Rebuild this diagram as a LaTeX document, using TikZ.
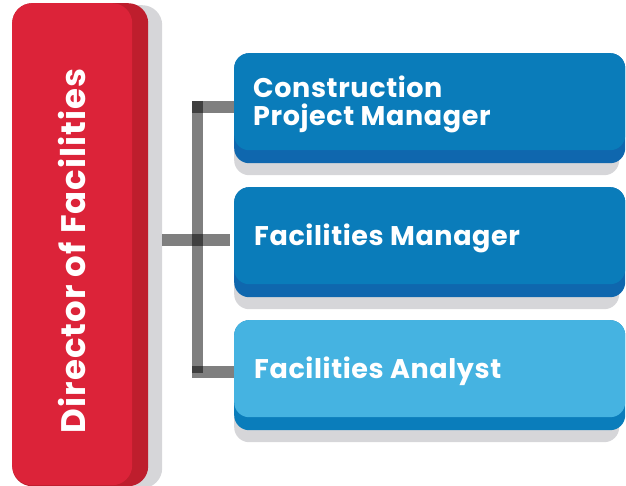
\documentclass[tikz,border=0pt]{standalone}
\usepackage{fontspec}
\setmainfont{Poppins}
\definecolor{shadegray}{HTML}{D6D6D9}
\definecolor{redfront}{HTML}{DC2339}
\definecolor{redback}{HTML}{BE1E2D}
\definecolor{bluefront}{HTML}{0A7CBA}
\definecolor{blueback}{HTML}{0F67AE}
\definecolor{lightfront}{HTML}{45B3E1}
\definecolor{lightback}{HTML}{0A7DBB}
\begin{document}
\begin{tikzpicture}[x=1pt,y=-1pt,
  panel/.style={rectangle, rounded corners=15pt, draw=none, inner sep=0pt, anchor=north west},
  bluetext/.style={anchor=base west, inner sep=0pt, text=white, font=\bfseries\fontsize{27}{27}\selectfont\addfontfeature{LetterSpace=2.3}},
  redtext/.style={anchor=base, inner sep=0pt, rotate=90, text=white, font=\bfseries\fontsize{34}{34}\selectfont\addfontfeature{LetterSpace=3}},
  link/.style={line width=11.5pt, black, opacity=0.5, line cap=butt}]
\useasboundingbox (0,0) rectangle (626,486);
\clip (0,0) rectangle (626,486);
% director
\node[panel, fill=shadegray, rounded corners=20pt, minimum width=142pt, minimum height=483pt] (dshadow) at (20,5) {};
\node[panel, fill=redback, rounded corners=20pt, minimum width=136pt, minimum height=483pt] (dback) at (12,3) {};
\node[panel, fill=redfront, rounded corners=20pt, minimum width=120pt, minimum height=482pt] (dfront) at (12,3) {};
\node[redtext] (dtext) at (85,251) {Director of Facilities};
% box 1
\node[panel, fill=shadegray, minimum width=385pt, minimum height=110pt] (b1shadow) at (234,65) {};
\node[panel, fill=blueback, minimum width=391pt, minimum height=110pt] (b1back) at (234,53) {};
\node[panel, fill=bluefront, minimum width=391pt, minimum height=97pt] (b1) at (234,53) {};
\node[bluetext] (t1a) at (253,98) {Construction};
\node[bluetext] (t1b) at (253,125.5) {Project Manager};
% box 2
\node[panel, fill=shadegray, minimum width=385pt, minimum height=110pt] (b2shadow) at (234,199) {};
\node[panel, fill=blueback, minimum width=391pt, minimum height=110pt] (b2back) at (234,187) {};
\node[panel, fill=bluefront, minimum width=391pt, minimum height=97pt] (b2) at (234,187) {};
\node[bluetext] (t2) at (254,246) {Facilities Manager};
% box 3
\node[panel, fill=shadegray, minimum width=385pt, minimum height=110pt] (b3shadow) at (234,332) {};
\node[panel, fill=lightback, minimum width=391pt, minimum height=110pt] (b3back) at (234,320) {};
\node[panel, fill=lightfront, minimum width=391pt, minimum height=97pt] (b3) at (234,320) {};
\node[bluetext] (t3) at (254,378) {Facilities Analyst};
% connectors
\coordinate (trunktop) at (197.5,101);
\coordinate (trunkbot) at (197.5,373);
\draw[link] (trunktop) -- (trunkbot);
\draw[link] (192,107) -- (b1.west |- 0,107);
\draw[link] (dshadow.east |- 0,240) -- (230,240);
\draw[link] (192,372) -- (b3.west |- 0,372);
\end{tikzpicture}
\end{document}
